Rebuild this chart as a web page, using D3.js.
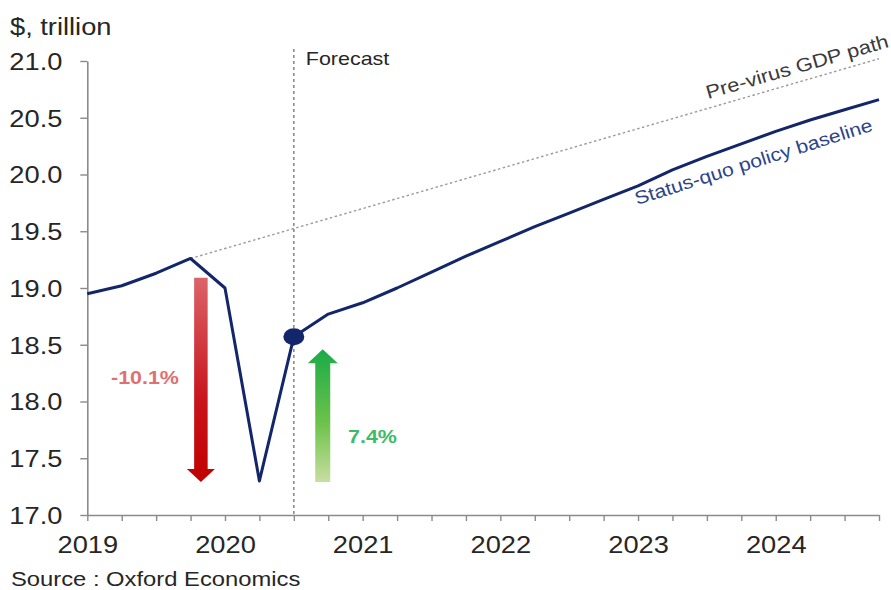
<!DOCTYPE html>
<html>
<head>
<meta charset="utf-8">
<script src="https://cdn.jsdelivr.net/npm/d3@7/dist/d3.min.js"></script>
<style>
  html, body { margin: 0; padding: 0; background: #fff; }
  svg { display: block; font-family: "Liberation Sans", Arial, sans-serif; }
</style>
</head>
<body>
<svg id="chart" width="891" height="590"></svg>
<script>
// US real GDP, quarterly, $ trillion
const quarters = [
  "2019Q1","2019Q2","2019Q3","2019Q4",
  "2020Q1","2020Q2","2020Q3","2020Q4",
  "2021Q1","2021Q2","2021Q3","2021Q4",
  "2022Q1","2022Q2","2022Q3","2022Q4",
  "2023Q1","2023Q2","2023Q3","2023Q4",
  "2024Q1","2024Q2","2024Q3","2024Q4"
];
const statusQuoBaseline = [
  18.95, 19.02, 19.13, 19.26,
  19.00, 17.30, 18.57, 18.77,
  18.87, 19.00, 19.14, 19.28,
  19.41, 19.54, 19.66, 19.78,
  19.90, 20.04, 20.16, 20.27,
  20.38, 20.48, 20.57, 20.66
];
// Pre-virus trend: straight path from the 2019Q4 peak
const preVirusQuarters = ["2019Q4", "2024Q4"];
const preVirusValues = [19.26, 21.02];
const yTicks = [17.0, 17.5, 18.0, 18.5, 19.0, 19.5, 20.0, 20.5, 21.0];
const yearLabels = ["2019", "2020", "2021", "2022", "2023", "2024"];
const forecastStart = "2020Q3";
// Drop from peak to trough and rebound from trough
const dropPct = "-10.1%";
const reboundPct = "7.4%";

const SX = 1.16; // horizontal text stretch
const svg = d3.select("#chart");

const x = d3.scalePoint().domain(quarters).range([87.3, 879]);
const y = d3.scaleLinear().domain([17, 21]).range([515, 61]);
const xi = i => x(quarters[0]) + i * x.step();

const axisColor = "#8a8a8a";
const textColor = "#262626";

// y axis
const gy = svg.append("g").attr("transform", `translate(${x(quarters[0])},0)`)
  .call(d3.axisLeft(y).tickValues(yTicks).tickFormat(d3.format(".1f")).tickSize(7).tickSizeOuter(0));
gy.select(".domain").attr("stroke", axisColor).attr("stroke-width", 1.6);
gy.selectAll(".tick line").attr("stroke", axisColor).attr("stroke-width", 1.4);
gy.selectAll(".tick text")
  .attr("x", -21.5).attr("dy", "0.36em")
  .attr("transform", `scale(${SX},1)`)
  .attr("fill", textColor).attr("font-size", 23.5)
  .attr("font-family", "Liberation Sans, Arial, sans-serif");

// x axis
const gx = svg.append("g").attr("transform", `translate(0,${y(17)})`)
  .call(d3.axisBottom(x).tickValues(quarters)
    .tickFormat(q => q.endsWith("Q1") && yearLabels.includes(q.slice(0, 4)) ? q.slice(0, 4) : "")
    .tickSize(6).tickSizeOuter(0));
gx.select(".domain").attr("stroke", axisColor).attr("stroke-width", 1.6);
gx.selectAll(".tick line").attr("stroke", axisColor).attr("stroke-width", 1.4);
gx.selectAll(".tick text")
  .attr("y", 38).attr("dy", 0)
  .attr("transform", `scale(${SX},1)`)
  .attr("fill", textColor).attr("font-size", 23.5)
  .attr("font-family", "Liberation Sans, Arial, sans-serif");

// axis title
svg.append("text").attr("transform", `translate(10,35) scale(${SX},1)`)
  .attr("font-size", 23.5).attr("fill", textColor).text("$, trillion");

// source
svg.append("text").attr("transform", `translate(11,586) scale(${SX},1)`)
  .attr("font-size", 20.5).attr("fill", textColor).text("Source : Oxford Economics");

// forecast divider
const fx = x(forecastStart);
svg.append("line")
  .attr("x1", fx).attr("x2", fx).attr("y1", 49).attr("y2", y(17))
  .attr("stroke", "#8c8c8c").attr("stroke-width", 1.6).attr("stroke-dasharray", "3,3");
svg.append("text").attr("transform", `translate(${fx + 12},65) scale(${SX},1)`)
  .attr("font-size", 18.5).attr("fill", textColor).text("Forecast");

// pre-virus path
svg.append("path")
  .datum(preVirusQuarters.map((q, i) => [x(q), y(preVirusValues[i])]))
  .attr("d", d3.line())
  .attr("fill", "none").attr("stroke", "#9a9a9a").attr("stroke-width", 1.4)
  .attr("stroke-dasharray", "2.5,2.5");

// gradients for arrows
const defs = svg.append("defs");
const gRed = defs.append("linearGradient").attr("id", "gradRed")
  .attr("x1", 0).attr("y1", 0).attr("x2", 0).attr("y2", 1);
gRed.append("stop").attr("offset", "0%").attr("stop-color", "#db6468");
gRed.append("stop").attr("offset", "60%").attr("stop-color", "#c8141c");
gRed.append("stop").attr("offset", "100%").attr("stop-color", "#c00000");
const gGreen = defs.append("linearGradient").attr("id", "gradGreen")
  .attr("x1", 0).attr("y1", 0).attr("x2", 0).attr("y2", 1);
gGreen.append("stop").attr("offset", "0%").attr("stop-color", "#1aab48");
gGreen.append("stop").attr("offset", "55%").attr("stop-color", "#6cc24a");
gGreen.append("stop").attr("offset", "100%").attr("stop-color", "#c8dea0");

function arrow(cx, yTail, yTip, shaftW, headW, headH, fill) {
  const dir = yTip > yTail ? 1 : -1;
  const yBase = yTip - dir * headH;
  const p = [
    [cx - shaftW / 2, yTail], [cx + shaftW / 2, yTail],
    [cx + shaftW / 2, yBase], [cx + headW / 2, yBase],
    [cx, yTip], [cx - headW / 2, yBase], [cx - shaftW / 2, yBase]
  ];
  svg.append("path").attr("d", d3.line()(p) + "Z").attr("fill", fill);
}
// drop arrow (peak to trough)
arrow(xi(3.3), y(19.09), y(17.29), 13.5, 28, 13, "url(#gradRed)");
// rebound arrow (trough to 2020Q3)
arrow(xi(6.84), y(17.29), y(18.46), 15, 30, 14, "url(#gradGreen)");

svg.append("text").attr("transform", `translate(111,384) scale(${SX},1)`)
  .attr("font-size", 18.5).attr("font-weight", "bold").attr("fill", "#e07072").text(dropPct);
svg.append("text").attr("transform", `translate(348,443) scale(${SX},1)`)
  .attr("font-size", 18.5).attr("font-weight", "bold").attr("fill", "#3dbb6a").text(reboundPct);

// status-quo baseline line
const lineColor = "#14266a";
svg.append("path")
  .datum(quarters.map((q, i) => [x(q), y(statusQuoBaseline[i])]))
  .attr("d", d3.line())
  .attr("fill", "none").attr("stroke", lineColor).attr("stroke-width", 3)
  .attr("stroke-linejoin", "round");

// marker at the last actual quarter
const fi = quarters.indexOf(forecastStart);
svg.append("ellipse")
  .attr("cx", x(forecastStart)).attr("cy", y(statusQuoBaseline[fi]))
  .attr("rx", 10.5).attr("ry", 8.5).attr("fill", lineColor);

// series labels
svg.append("text").attr("transform", `translate(708,99) rotate(-16) scale(1.15,1)`)
  .attr("font-size", 19).attr("fill", "#3a3a3a").text("Pre-virus GDP path");
svg.append("text").attr("transform", `translate(637,205) rotate(-17.5) scale(1.15,1)`)
  .attr("font-size", 18.5).attr("fill", "#2c4588").text("Status-quo policy baseline");
</script>
</body>
</html>
